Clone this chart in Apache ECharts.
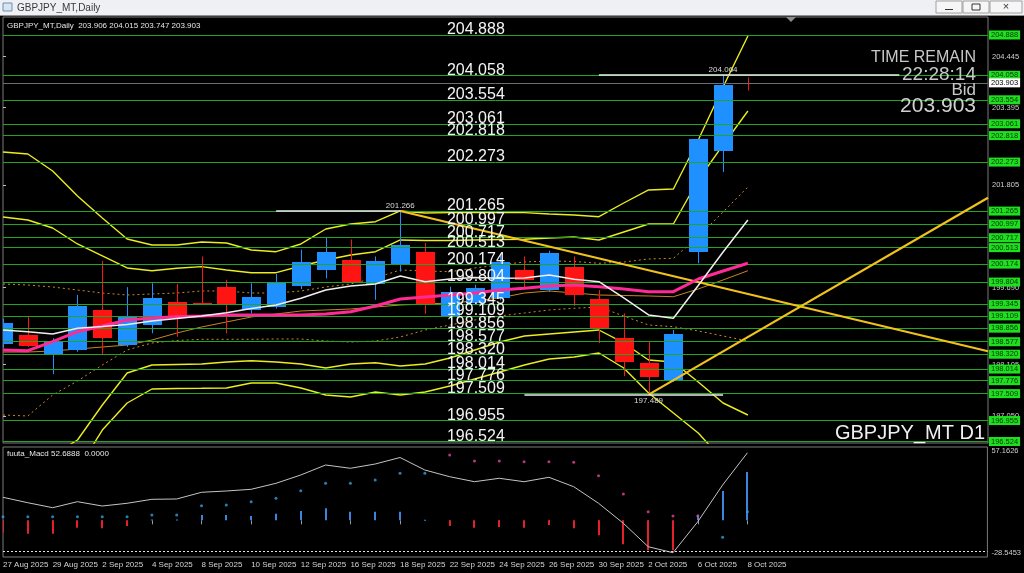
<!DOCTYPE html>
<html><head><meta charset="utf-8">
<script src="https://cdn.jsdelivr.net/npm/echarts@6.0.0/dist/echarts.min.js"></script>
<style>html,body{margin:0;padding:0;background:#000;overflow:hidden}#chart{width:1024px;height:573px}</style>
</head><body><div id="chart"></div>
<script>
// ---------------- DATA ----------------
const dates = ['27 Aug 2025','28 Aug 2025','29 Aug 2025','1 Sep 2025','2 Sep 2025','3 Sep 2025','4 Sep 2025','5 Sep 2025','8 Sep 2025','9 Sep 2025','10 Sep 2025','11 Sep 2025','12 Sep 2025','15 Sep 2025','16 Sep 2025','17 Sep 2025','18 Sep 2025','19 Sep 2025','22 Sep 2025','23 Sep 2025','24 Sep 2025','25 Sep 2025','26 Sep 2025','29 Sep 2025','30 Sep 2025','1 Oct 2025','2 Oct 2025','3 Oct 2025','6 Oct 2025','7 Oct 2025','8 Oct 2025'];
const dateTicks = [0,2,4,6,8,10,12,14,16,18,20,22,24,26,28,30];

const open  = [198.54,198.71,198.32,198.40,199.22,198.51,198.92,199.39,199.38,199.70,199.22,199.30,199.71,200.06,200.26,199.75,200.16,200.42,199.10,199.38,199.47,200.06,199.64,200.12,199.46,198.65,198.14,197.77,200.42,202.51,203.906];
const high  = [199.05,199.09,198.65,199.54,200.24,199.70,199.78,199.77,200.33,199.85,199.78,199.97,200.47,200.73,200.68,200.33,201.266,200.61,199.71,199.75,200.36,200.33,200.45,200.33,199.64,199.16,198.58,198.82,202.76,204.064,204.015];
const low   = [198.45,198.47,197.91,198.37,198.30,198.47,198.75,198.68,199.33,198.75,199.16,199.26,199.66,199.88,199.78,199.44,200.02,199.15,199.08,199.33,199.43,199.68,199.60,199.31,198.55,197.87,197.489,197.75,200.19,202.07,203.747];
const close = [198.97,198.49,198.57,199.31,198.65,199.09,199.47,199.11,199.36,199.35,199.49,199.79,200.21,200.43,199.81,200.23,200.57,199.32,199.61,199.68,200.21,199.85,200.41,199.54,198.85,198.16,197.85,198.73,202.74,203.86,203.903];

const bbUp3 = [202.481,202.439,202.090,201.575,201.123,200.690,200.567,200.567,200.629,200.608,200.464,200.429,200.588,200.896,200.999,201.046,201.267,201.225,201.232,201.232,201.232,201.232,201.205,201.184,201.149,201.431,201.699,201.719,202.728,203.818,204.867];
const bbUp2 = [201.143,201.081,200.917,200.588,200.341,200.094,200.038,200.088,200.121,200.053,199.997,199.997,200.135,200.258,200.361,200.429,200.670,200.660,200.660,200.670,200.680,200.684,200.711,200.732,200.670,200.835,200.999,200.999,201.904,202.625,203.324];
const bbUp1 = [199.765,199.744,199.703,199.641,199.579,199.538,199.559,199.579,199.621,199.621,199.579,199.579,199.621,199.703,199.765,199.888,200.053,200.032,200.018,200.094,200.156,200.217,200.238,200.228,200.191,200.217,200.279,200.293,200.738,201.246,201.760];
const bbMid = [198.407,198.392,198.577,198.783,198.900,199.024,199.065,199.092,199.106,199.127,199.127,199.127,199.127,199.147,199.195,199.312,199.456,199.497,199.538,199.579,199.641,199.676,199.723,199.744,199.709,199.662,199.606,199.606,199.867,200.032,200.191];
const bbDn1 = [197.069,197.049,197.481,197.769,198.098,198.407,198.551,198.602,198.627,198.627,198.627,198.633,198.633,198.592,198.571,198.592,198.674,198.818,198.921,199.024,199.106,199.168,199.230,199.265,199.291,199.106,198.921,198.886,198.798,198.695,198.592];
const bbDn2 = [195.670,195.711,196.246,196.555,197.275,197.933,198.098,198.108,198.118,198.160,198.186,198.160,198.118,198.036,198.118,198.145,198.077,198.118,198.242,198.407,198.571,198.695,198.736,198.777,198.818,198.551,198.201,198.160,197.748,197.316,197.069];
const bbDn3 = [194.333,194.353,195.073,195.937,196.760,197.316,197.604,197.614,197.618,197.625,197.728,197.728,197.625,197.481,197.439,197.542,197.481,197.542,197.666,197.810,197.954,198.098,198.221,198.263,198.345,198.036,197.522,197.110,196.699,196.143,195.526];
const maWhite  = [198.818,198.783,198.736,198.853,198.890,198.931,199.003,199.055,199.106,199.174,199.260,199.332,199.470,199.641,199.723,199.765,199.929,199.812,199.867,199.898,199.882,199.888,199.950,199.861,199.812,199.477,199.127,199.059,199.734,200.423,201.081];
const maOrange = [198.365,198.365,198.386,198.427,198.468,198.509,198.612,198.756,198.880,198.983,199.086,199.147,199.209,199.230,199.250,199.291,199.332,199.353,199.374,199.415,199.477,199.579,199.621,199.579,199.538,199.528,199.518,199.503,199.662,199.847,200.038];

const levels = [204.888,204.058,203.554,203.061,202.818,202.273,201.265,200.997,200.717,200.513,200.174,199.804,199.345,199.109,198.856,198.577,198.320,198.014,197.776,197.509,196.955,196.524];
const priceTicks = [204.445,203.395,201.805,199.690,198.105,197.050];
const bid = 203.903;

// trend lines: [startIndex, startPrice, endIndex, endPrice]
const trendDown = [16, 201.266, 39.67, 198.38];
const trendUp   = [26, 197.489, 39.67, 201.54];
// high / low marker lines
const markValues = [201.266, 197.489, 204.064];
const markStart  = [11, 21, 24];
const markEnd    = [16, 29, 36.1];
const markAt     = [16, 26, 29];

const macdLine   = [17.97,13.76,9.87,14.54,11.19,13.30,16.41,16.65,21.87,22.88,24.20,28.88,35.35,43.14,40.57,43.92,48.98,39.24,34.02,30.13,32.78,30.13,33.55,26.23,13.30,-2.29,-20.52,-25.20,-1.04,27.55,52.6888];
const macdSignal = [2.85,2.85,2.85,2.85,2.85,2.85,4.18,4.18,11.42,11.97,14.54,17.19,23.11,28.88,28.88,31.45,36.67,36.67,50.93,46.25,46.25,45.71,45.71,45.24,34.80,20.54,6.75,3.40,3.40,-13.20,6.75];
const macdHist   = [-9.58,-10.36,-10.36,-5.69,-6.23,-4.36,0.62,0.62,4.21,4.21,3.43,5.22,7.32,9.35,6.78,6.78,6.78,0.5,-4.36,-5.69,-5.14,-5.69,-3.58,-6.23,-11.69,-18.70,-23.37,-23.37,4.44,22.91,37.71];
const macdMax = 57.1626, macdMin = -28.5453, macdLevel = -24.0;

// ---------------- STYLE / LAYOUT ----------------
const FONT = '"Liberation Sans", Arial, sans-serif';
const NARROW = '"Liberation Sans Narrow", "Liberation Sans", Arial, sans-serif';
const BULL = '#1e90ff', BEAR = '#ff1414';
const LEVEL_GREEN = '#22a622';
const BB_YELLOW = '#ecec1e';
const TREND = '#f2c21c';
const XMAX = 39.67;
const TEXT_X = 17.88;
const N = dates.length;
const pts = a => a.map((v, i) => [i, v]);

const chart = echarts.init(document.getElementById('chart'));

function candleItem(params, api) {
  const i = api.value(0), o = api.value(1), c = api.value(2), l = api.value(3), h = api.value(4);
  const pO = api.coord([i, o]), pC = api.coord([i, c]), pL = api.coord([i, l]), pH = api.coord([i, h]);
  const col = c >= o ? BULL : BEAR;
  const w = 19;
  const x = Math.round(pO[0]);
  const top = Math.min(pO[1], pC[1]), bot = Math.max(pO[1], pC[1]);
  return { type: 'group', children: [
    { type: 'line', shape: { x1: x + 0.5, y1: pH[1], x2: x + 0.5, y2: pL[1] }, style: { stroke: col, lineWidth: 1 } },
    { type: 'rect', shape: { x: x - 9, y: Math.round(top), width: w, height: Math.max(Math.round(bot - top), 1) }, style: { fill: col } }
  ]};
}
function histItem(params, api) {
  const i = api.value(0), v = api.value(1);
  const a = api.coord([i, 0]), b = api.coord([i, v]);
  return { type: 'rect', shape: { x: Math.round(a[0]) - 1, y: Math.min(a[1], b[1]), width: 2, height: Math.max(Math.abs(b[1] - a[1]), 1) },
    style: { fill: v >= 0 ? '#3c84de' : '#e6202a' } };
}
function lineS(name, arr, color, width, type, z) {
  return { name, type: 'line', xAxisIndex: 0, yAxisIndex: 0, data: pts(arr), showSymbol: false, silent: true,
    lineStyle: { color, width, type: type || 'solid' }, z: z || 3, clip: true };
}

const option = {
  backgroundColor: '#000',
  animation: false,
  grid: [
    { left: 3, right: 36, top: 17, height: 426, show: true, borderColor: '#7a7a7a', borderWidth: 1 },
    { left: 3, right: 36, top: 447, height: 110, show: true, borderColor: '#7a7a7a', borderWidth: 1 }
  ],
  xAxis: [
    { gridIndex: 0, type: 'value', min: 0, max: XMAX, show: false },
    { gridIndex: 1, type: 'value', min: 0, max: XMAX, interval: 2,
      axisLine: { show: false }, splitLine: { show: false },
      axisTick: { show: true, length: 4, lineStyle: { color: '#9a9a9a' }, customValues: dateTicks },
      axisLabel: { show: true, customValues: dateTicks, formatter: v => dates[Math.round(v)] || '', align: 'left',
        color: '#d4d4d4', fontSize: 8, fontFamily: NARROW, margin: 4 } }
  ],
  yAxis: [
    { gridIndex: 0, type: 'value', position: 'right', min: 196.493, max: 205.258, splitLine: { show: false },
      axisLine: { show: false },
      axisTick: { show: true, length: 3, lineStyle: { color: '#bdbdbd' }, customValues: priceTicks },
      axisLabel: { customValues: priceTicks, formatter: v => v.toFixed(3), color: '#cfcfcf', fontSize: 7.5, fontFamily: FONT, margin: 4 } },
    { gridIndex: 1, type: 'value', position: 'right', min: macdMin, max: macdMax, splitLine: { show: false },
      axisLine: { show: false }, axisTick: { show: false },
      axisLabel: { customValues: [macdMin, macdMax], formatter: v => v.toFixed(4), color: '#cfcfcf', fontSize: 7.5, fontFamily: FONT, margin: 4,
        verticalAlignMaxLabel: 'top', verticalAlignMinLabel: 'bottom' } }
  ],
  series: [
    // Bollinger / MA lines
    lineS('bb+3', bbUp3, BB_YELLOW, 1.4),
    lineS('bb+2', bbUp2, BB_YELLOW, 1.4),
    lineS('bb+1', bbUp1, '#c98a22', 1, [2, 3]),
    lineS('bb-1', bbDn1, '#c98a22', 1, [2, 3]),
    lineS('bb-2', bbDn2, BB_YELLOW, 1.4),
    lineS('bb-3', bbDn3, BB_YELLOW, 1.4),
    lineS('maOrange', maOrange, '#c8861e', 1),
    // candles
    { name: 'candles', type: 'custom', xAxisIndex: 0, yAxisIndex: 0, renderItem: candleItem, clip: true, z: 4, silent: true,
      data: dates.map((d, i) => [i, open[i], close[i], low[i], high[i]]), encode: { x: 0, y: [1, 2, 3, 4] } },
    lineS('bbMid', bbMid, '#ff2a96', 3, 'solid', 5),
    lineS('maWhite', maWhite, '#f2eeee', 1.5, 'solid', 5),
    // horizontal level lines with axis boxes
    { name: 'levels', type: 'line', xAxisIndex: 0, yAxisIndex: 0, data: [], z: 6,
      markLine: { silent: true, symbol: ['none', 'none'], animation: false, precision: 3,
        lineStyle: { color: LEVEL_GREEN, width: 1, type: 'solid' },
        label: { show: true, position: 'end', distance: 1, formatter: p => levels[p.dataIndex].toFixed(3),
          backgroundColor: '#1fe01f', color: '#063306', fontSize: 7.5, fontFamily: FONT, padding: [1, 2, 0, 2] },
        data: levels.map(v => ({ yAxis: v })) } },
    // bid line
    { name: 'bid', type: 'line', xAxisIndex: 0, yAxisIndex: 0, data: [], z: 6,
      markLine: { silent: true, symbol: ['none', 'none'], animation: false, precision: 3,
        lineStyle: { color: '#6e6e6e', width: 1, type: 'solid' },
        label: { show: true, position: 'end', distance: 1, formatter: () => bid.toFixed(3),
          backgroundColor: '#ffffff', color: '#000', fontSize: 7.5, fontFamily: FONT, padding: [1, 2, 0, 2] },
        data: [{ yAxis: bid }] } },
    // trend lines and high/low marker lines
    { name: 'objects', type: 'line', xAxisIndex: 0, yAxisIndex: 0, data: [], z: 7,
      markLine: { silent: true, symbol: ['none', 'none'], animation: false, label: { show: false },
        lineStyle: { type: 'solid' },
        data: [
          [{ coord: [trendDown[0], trendDown[1]], lineStyle: { color: TREND, width: 2.2, type: 'solid' } }, { coord: [trendDown[2], trendDown[3]] }],
          [{ coord: [trendUp[0], trendUp[1]], lineStyle: { color: TREND, width: 2.2, type: 'solid' } }, { coord: [trendUp[2], trendUp[3]] }]
        ].concat(markValues.map((v, k) => [{ coord: [markStart[k], v], lineStyle: { color: '#ececec', width: 1.6, type: 'solid' } }, { coord: [markEnd[k], v] }])) } },
    // small labels on high/low markers
    { name: 'markText', type: 'custom', xAxisIndex: 0, yAxisIndex: 0, z: 8, silent: true,
      data: markValues.map((v, k) => [markAt[k], v]),
      renderItem: (p, api) => {
        const i = api.value(0), v = api.value(1);
        const pt = api.coord([i, v]);
        const below = Math.abs(low[i] - v) < 1e-6;
        return { type: 'text', x: pt[0], y: below ? pt[1] + 2 : pt[1] - 1,
          style: { text: v.toFixed(3), fill: '#d8d8d8', font: '8px ' + FONT, align: 'center', verticalAlign: below ? 'top' : 'bottom' } };
      } },
    // big level texts
    { name: 'levelText', type: 'custom', xAxisIndex: 0, yAxisIndex: 0, z: 9, silent: true,
      data: levels.map((v, k) => [k, v]),
      renderItem: (p, api) => {
        const v = api.value(1);
        const pt = api.coord([TEXT_X, v]);
        return { type: 'text', x: pt[0], y: pt[1] + 3,
          style: { text: v.toFixed(3), fill: '#f4f4f4', font: '16px ' + FONT, align: 'left', verticalAlign: 'bottom' } };
      } },
    // MACD panel
    { name: 'hist', type: 'custom', xAxisIndex: 1, yAxisIndex: 1, renderItem: histItem, clip: true, z: 3, silent: true,
      data: pts(macdHist), encode: { x: 0, y: 1 } },
    { name: 'macd', type: 'line', xAxisIndex: 1, yAxisIndex: 1, data: pts(macdLine), showSymbol: false, silent: true,
      lineStyle: { color: '#c4c4c4', width: 1 }, z: 4,
      markLine: { silent: true, symbol: ['none', 'none'], animation: false, label: { show: false },
        lineStyle: { color: '#e0e0e0', width: 1, type: [2, 2] }, data: [{ yAxis: macdLevel }] } },
    { name: 'signal', type: 'scatter', xAxisIndex: 1, yAxisIndex: 1, data: pts(macdSignal), symbolSize: 3, silent: true, z: 5,
      itemStyle: { color: p => macdSignal[p.dataIndex] > macdLine[p.dataIndex] ? '#e2449a' : '#33a0dc' } }
  ],
  graphic: [
    { type: 'rect', shape: { x: 0, y: 0, width: 1024, height: 15 }, style: { fill: '#eef0f4' }, z: 100 },
    { type: 'line', shape: { x1: 0, y1: 15.5, x2: 1024, y2: 15.5 }, style: { stroke: '#8e8e8e', lineWidth: 1 }, z: 100 },
    { type: 'rect', shape: { x: 3, y: 3, width: 9, height: 8 }, style: { fill: '#d7e4f2', stroke: '#6c8fb5', lineWidth: 1 }, z: 101 },
    { type: 'text', x: 17, y: 8, style: { text: 'GBPJPY_MT,Daily', fill: '#3a3a3a', font: '10px ' + FONT, verticalAlign: 'middle' }, z: 101 },
    { type: 'rect', shape: { x: 936, y: 1, width: 26, height: 12 }, style: { fill: '#f6f6f6', stroke: '#a0a0a0' }, z: 101 },
    { type: 'rect', shape: { x: 963, y: 1, width: 26, height: 12 }, style: { fill: '#f6f6f6', stroke: '#a0a0a0' }, z: 101 },
    { type: 'rect', shape: { x: 990, y: 1, width: 32, height: 12 }, style: { fill: '#f6f6f6', stroke: '#a0a0a0' }, z: 101 },
    { type: 'line', shape: { x1: 945, y1: 9.5, x2: 953, y2: 9.5 }, style: { stroke: '#333', lineWidth: 1 }, z: 102 },
    { type: 'rect', shape: { x: 972, y: 4, width: 8, height: 6 }, style: { fill: 'none', stroke: '#333' }, z: 102 },
    { type: 'text', x: 1006, y: 7, style: { text: '×', fill: '#333', font: '11px ' + FONT, align: 'center', verticalAlign: 'middle' }, z: 102 },
    { type: 'polygon', shape: { points: [[786, 17], [796, 17], [791, 22]] }, style: { fill: '#8c8c8c' }, z: 50 },
    { type: 'text', x: 7, y: 26, style: { text: 'GBPJPY_MT,Daily  ' + [open[N-1], high[N-1], low[N-1], close[N-1]].map(v => v.toFixed(3)).join(' '),
      fill: '#e6e6e6', font: '8px ' + FONT, verticalAlign: 'middle' }, z: 50 },
    { type: 'text', x: 976, y: 58, style: { text: 'TIME REMAIN', fill: '#c8c8c8', font: '16px ' + FONT, align: 'right', verticalAlign: 'middle' }, z: 50 },
    { type: 'text', x: 976, y: 75, style: { text: '22:28:14', fill: '#c8c8c8', font: '19px ' + FONT, align: 'right', verticalAlign: 'middle' }, z: 50 },
    { type: 'text', x: 976, y: 90, style: { text: 'Bid', fill: '#c8c8c8', font: '17px ' + FONT, align: 'right', verticalAlign: 'middle' }, z: 50 },
    { type: 'text', x: 976, y: 106, style: { text: bid.toFixed(3), fill: '#d0d0d0', font: '21px ' + FONT, align: 'right', verticalAlign: 'middle' }, z: 50 },
    { type: 'text', x: 985, y: 433, style: { text: 'GBPJPY_MT D1', fill: '#f0f0f0', font: '20px ' + FONT, align: 'right', verticalAlign: 'middle' }, z: 50 },
    { type: 'text', x: 7, y: 454, style: { text: 'fuuta_Macd ' + macdLine[N-1].toFixed(4) + '  0.0000', fill: '#e6e6e6', font: '8px ' + FONT, verticalAlign: 'middle' }, z: 50 }
  ]
};
chart.setOption(option);
</script>
</body></html>
